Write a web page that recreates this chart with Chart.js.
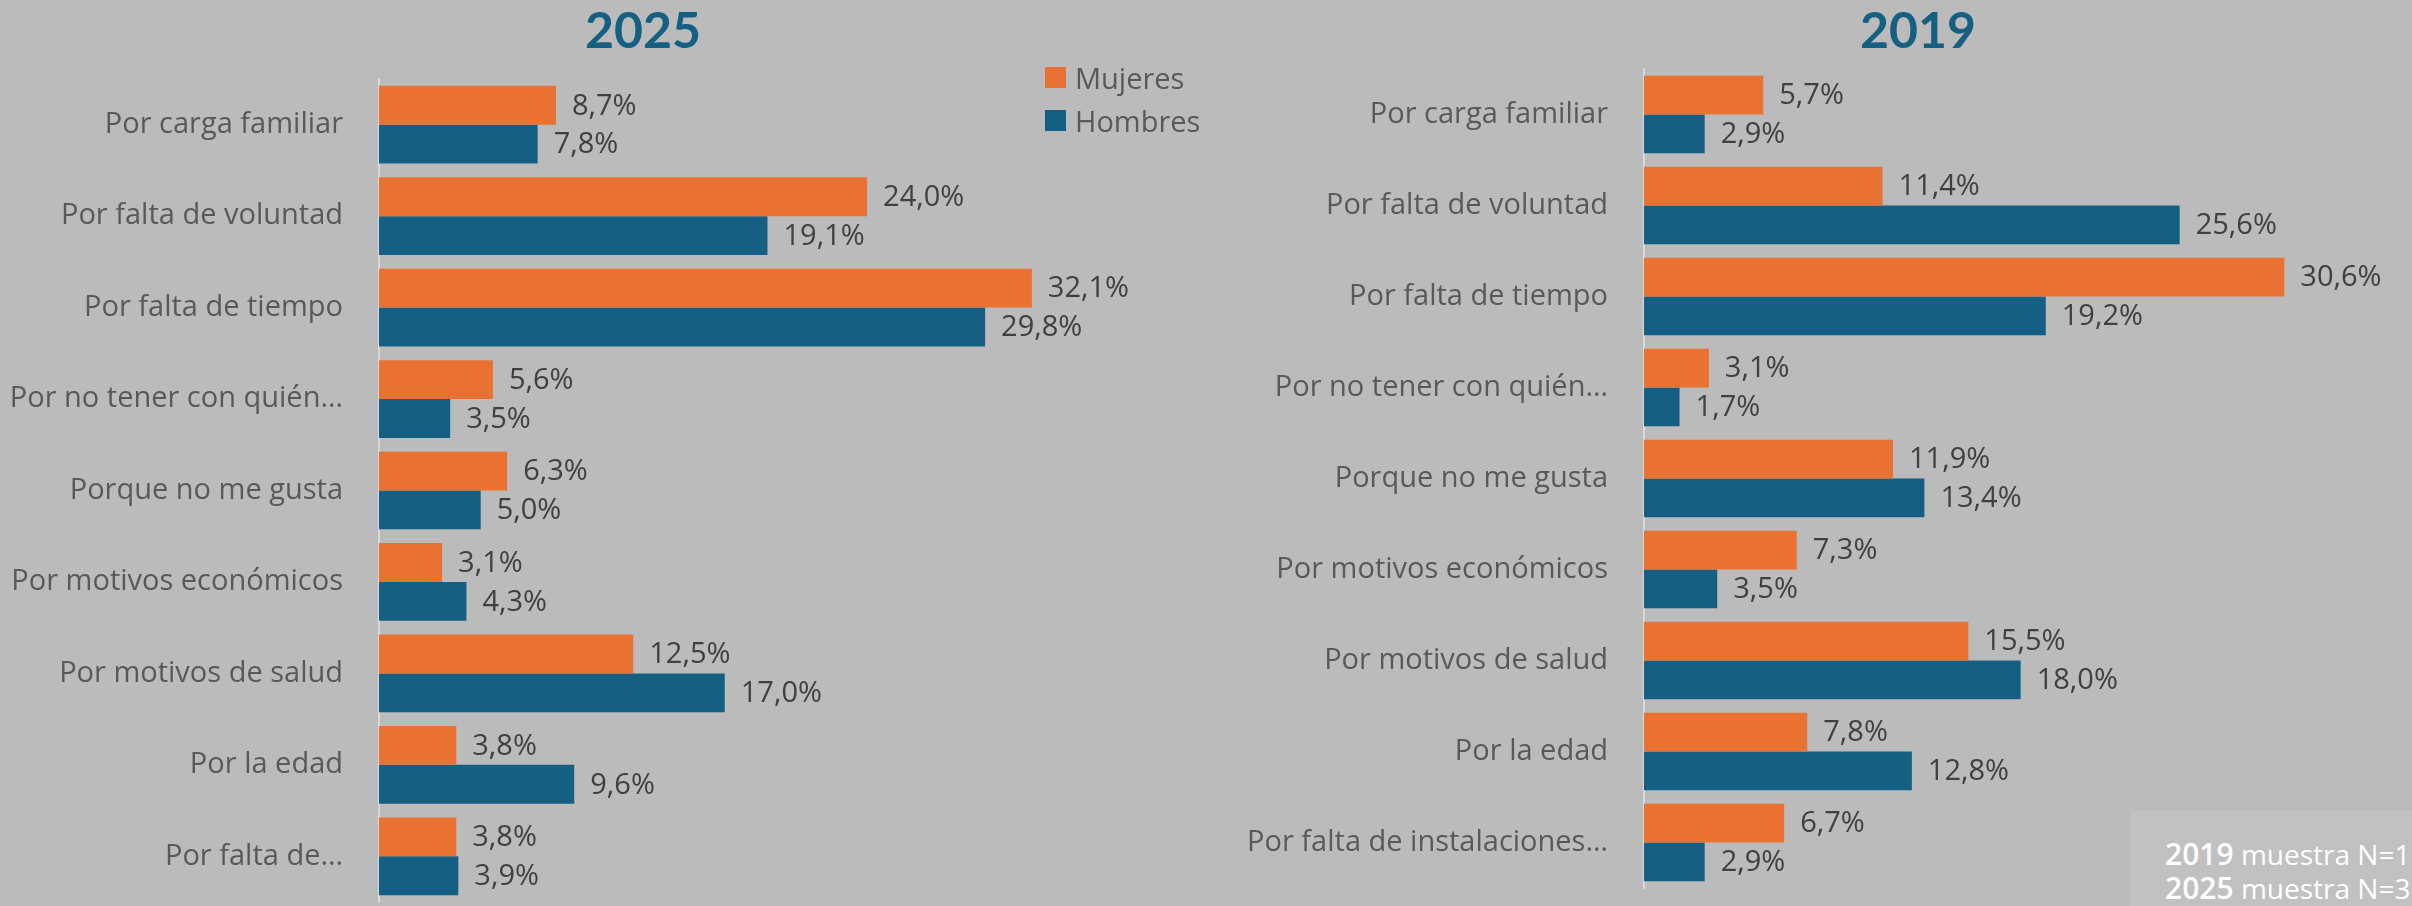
<!DOCTYPE html>
<html lang="es">
<head>
<meta charset="utf-8">
<script src="https://cdn.jsdelivr.net/npm/chart.js@4/dist/chart.umd.min.js"></script>
<style>
  body { margin: 0; width: 2412px; height: 906px; background: #bbbbbb; position: relative; overflow: hidden; font-family: "Open Sans", sans-serif; }
  .box { position: absolute; top: 0; height: 906px; }
  .title { position: absolute; top: 4px; width: 300px; margin-left: -150px; text-align: center; font: bold 50px/1 Lato, sans-serif; color: #156082; }
  .legend { position: absolute; left: 1045px; top: 67px; color: #595959; font: 29px/21px "Open Sans", sans-serif; }
  .legend div { height: 21px; margin-bottom: 22px; white-space: nowrap; }
  .legend span { display: inline-block; width: 21px; height: 21px; vertical-align: top; margin-right: 9px; }
  .note { position: absolute; left: 2130px; top: 811px; right: 0; bottom: 0; background: #c1c1c1; overflow: hidden; color: #fff; white-space: nowrap; }
  .note div { position: absolute; left: 35px; font-size: 28px; line-height: 30px; }
  .note b { font-size: 30px; font-weight: 600; }
</style>
</head>
<body>
<div class="title" style="left:643px">2025</div>
<div class="title" style="left:1918px">2019</div>

<div class="box" style="left:0;width:1240px"><canvas id="chart2025"></canvas></div>
<div class="box" style="left:1240px;width:1172px"><canvas id="chart2019"></canvas></div>

<div class="legend">
  <div><span style="background:#e97132"></span>Mujeres</div>
  <div><span style="background:#156082"></span>Hombres</div>
</div>

<div class="note">
  <div style="top:28px"><b>2019</b> muestra N=1</div>
  <div style="top:62px"><b>2025</b> muestra N=3</div>
</div>

<script>
const labels2025 = ['Por carga familiar', 'Por falta de voluntad', 'Por falta de tiempo', 'Por no tener con quién…',
  'Porque no me gusta', 'Por motivos económicos', 'Por motivos de salud', 'Por la edad', 'Por falta de…']
const labels2019 = ['Por carga familiar', 'Por falta de voluntad', 'Por falta de tiempo', 'Por no tener con quién…',
  'Porque no me gusta', 'Por motivos económicos', 'Por motivos de salud', 'Por la edad', 'Por falta de instalaciones…']

const mujeres2025 = [8.7, 24.0, 32.1, 5.6, 6.3, 3.1, 12.5, 3.8, 3.8]
const hombres2025 = [7.8, 19.1, 29.8, 3.5, 5.0, 4.3, 17.0, 9.6, 3.9]
const mujeres2019 = [5.7, 11.4, 30.6, 3.1, 11.9, 7.3, 15.5, 7.8, 6.7]
const hombres2019 = [2.9, 25.6, 19.2, 1.7, 13.4, 3.5, 18.0, 12.8, 2.9]

const ORANGE = '#e97132'
const BLUE = '#156082'
const FONT = '"Open Sans", sans-serif'

const fmt = v => v.toFixed(1).replace('.', ',') + '%'

// value labels right of each bar
const valueLabels = {
  id: 'valueLabels',
  afterDatasetsDraw(chart) {
    const ctx = chart.ctx
    ctx.save()
    ctx.font = '29px ' + FONT
    ctx.fillStyle = '#404040'
    ctx.textBaseline = 'middle'
    ctx.textAlign = 'left'
    chart.data.datasets.forEach((ds, i) => {
      chart.getDatasetMeta(i).data.forEach((bar, j) => {
        ctx.fillText(fmt(ds.data[j]), bar.x + 16, bar.y + 1)
      })
    })
    ctx.restore()
  },
}

function makeChart(id, labels, muj, hom, opts) {
  return new Chart(document.getElementById(id), {
    type: 'bar',
    data: {
      labels,
      datasets: [
        { label: 'Mujeres', data: muj, backgroundColor: ORANGE },
        { label: 'Hombres', data: hom, backgroundColor: BLUE },
      ],
    },
    options: {
      indexAxis: 'y',
      responsive: true,
      maintainAspectRatio: false,
      animation: false,
      categoryPercentage: 0.85,
      barPercentage: 1.0,
      layout: { padding: { top: opts.top, bottom: opts.bottom, right: opts.right, left: 0 } },
      plugins: { legend: { display: false }, tooltip: { enabled: false } },
      scales: {
        x: { display: false, min: 0, max: opts.max },
        y: {
          grid: { display: false, drawTicks: false },
          border: { display: true, color: '#d9d9d9', width: 2 },
          ticks: { color: '#595959', font: { family: 'Open Sans', size: 29 }, padding: 36 },
          afterFit: (scale) => {
            scale.width = opts.axisW
            // tick padding would otherwise reserve space above/below the plot
            scale.paddingTop = 0
            scale.paddingBottom = 0
          },
        },
      },
    },
    plugins: [valueLabels],
  })
}

makeChart('chart2025', labels2025, mujeres2025, hombres2025, { top: 79, bottom: 4, right: 200, max: 32.5, axisW: 379 })
makeChart('chart2019', labels2019, mujeres2019, hombres2019, { top: 69, bottom: 18, right: 112, max: 31.35, axisW: 404 })
</script>
</body>
</html>
